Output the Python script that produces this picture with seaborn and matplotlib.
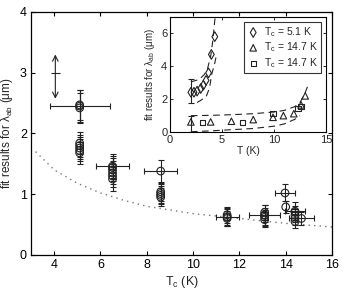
import numpy as np
import pandas as pd
import matplotlib
matplotlib.use("Agg")
import matplotlib.pyplot as plt
import seaborn as sns

sns.set_style("ticks")
plt.rcParams['font.family'] = ['Liberation Sans', 'DejaVu Sans']
plt.rcParams['mathtext.default'] = 'regular'
plt.rcParams['xtick.direction'] = 'in'
plt.rcParams['ytick.direction'] = 'in'

# ---------------- main panel data ----------------
# points with error bars (Tc, lambda, xerr, yerr)
main_tc   = [5.1, 6.52, 8.6, 11.47, 13.09, 13.97, 14.4, 14.68]
main_lam  = [2.45, 1.46, 1.38, 0.62, 0.65, 1.02, 0.72, 0.60]
main_xerr = [1.3, 0.73, 0.70, 0.50, 0.66, 0.42, 0.45, 0.55]
main_yerr = [0.27, 0.20, 0.18, 0.15, 0.17, 0.14, 0.15, 0.10]

# clustered repeated fits (only y error bars)
clus_tc   = [5.1, 5.1, 5.1, 5.1, 5.1, 5.1, 5.1,
             6.52, 6.52, 6.52, 6.52, 6.52,
             8.6, 8.6, 8.6, 8.6,
             11.47, 11.47, 11.47,
             13.09, 13.09, 13.09, 13.09,
             14.0,
             14.4, 14.4, 14.4, 14.4]
clus_lam  = [2.42, 2.47, 1.68, 1.72, 1.76, 1.80, 1.84,
             1.25, 1.30, 1.35, 1.40, 1.44,
             0.95, 0.98, 1.01, 1.04,
             0.60, 0.63, 0.66,
             0.58, 0.62, 0.66, 0.70,
             0.79,
             0.55, 0.60, 0.65, 0.70]
clus_yerr = [0.25, 0.25, 0.18, 0.18, 0.18, 0.18, 0.18,
             0.19, 0.19, 0.19, 0.19, 0.19,
             0.15, 0.15, 0.15, 0.15,
             0.13, 0.13, 0.13,
             0.12, 0.12, 0.12, 0.12,
             0.10,
             0.10, 0.10, 0.10, 0.10]

# dotted reference curve
dot_tc  = [3.2, 4, 5, 6, 7, 8, 9, 10, 11, 12, 13, 14, 15, 16]
dot_lam = [1.70, 1.40, 1.18, 1.02, 0.90, 0.80, 0.74, 0.68, 0.64, 0.60, 0.56, 0.52, 0.49, 0.46]

# double arrow marker (x, y_low, y_high, y_mid, half width)
arrow_x = 4.05
arrow_y = [2.57, 3.30]
arrow_mid = 3.0
arrow_halfw = 0.2

# ---------------- inset data ----------------
dia_T   = [2.0, 2.3, 2.6, 2.95, 3.2, 3.46, 3.7, 3.97, 4.3]
dia_lam = [2.42, 2.42, 2.49, 2.65, 2.85, 3.14, 3.6, 4.72, 5.8]
tri_T   = [2.0, 3.9, 5.9, 8.0, 9.9, 10.9, 11.9, 12.6, 13.0]
tri_lam = [0.62, 0.62, 0.66, 0.76, 0.90, 1.00, 1.12, 1.65, 2.20]
sq_T    = [3.1, 7.0, 9.9, 12.3, 12.6]
sq_lam  = [0.58, 0.56, 1.15, 1.42, 1.58]

bracket_T   = [2.0, 2.0]
bracket_mid = [2.49, 0.48]
bracket_err = [0.71, 0.48]

dia_up_T   = [2.0, 2.8, 3.3, 3.6, 3.9, 4.1, 4.3, 4.45]
dia_up_lam = [3.05, 3.2, 3.5, 3.85, 4.6, 5.5, 6.8, 7.3]
dia_lo_T   = [2.6, 3.0, 3.5, 3.8, 4.0, 4.3, 4.5]
dia_lo_lam = [1.8, 1.95, 2.2, 2.7, 3.5, 4.2, 4.8]
low_up_T   = [2, 4, 6, 8, 10, 11, 12, 12.5, 13, 13.3]
low_up_lam = [1.0, 1.02, 1.06, 1.12, 1.22, 1.32, 1.55, 1.8, 2.4, 2.9]
low_lo_T   = [2, 4, 6, 8, 10, 11, 12, 12.5]
low_lo_lam = [0.02, 0.08, 0.15, 0.22, 0.36, 0.5, 0.78, 1.0]

legend_labels = ["T$_c$ = 5.1 K", "T$_c$ = 14.7 K", "T$_c$ = 14.7 K"]

dark = "#222222"
fig = plt.figure(figsize=(3.45, 2.91), dpi=100)
ax = fig.add_axes([0.0899, 0.124, 0.8725, 0.835])

# dotted curve
sns.lineplot(x=dot_tc, y=dot_lam, ax=ax, color="#777777", linestyle=(0, (1, 3)),
             linewidth=1.0, sort=False, legend=False)

ax.errorbar(main_tc, main_lam, xerr=main_xerr, yerr=main_yerr, fmt='none',
            ecolor=dark, elinewidth=0.8, capsize=2, capthick=0.8)
ax.errorbar(clus_tc, clus_lam, yerr=clus_yerr, fmt='none',
            ecolor=dark, elinewidth=0.8, capsize=2, capthick=0.8)
sns.scatterplot(x=main_tc + clus_tc, y=main_lam + clus_lam, ax=ax, marker='o',
                s=30, facecolor='none', edgecolor=dark, linewidth=0.8, legend=False)

ax.annotate('', xy=(arrow_x, arrow_y[1]), xytext=(arrow_x, arrow_y[0]),
            arrowprops=dict(arrowstyle='<->', color=dark, lw=0.8,
                            shrinkA=0, shrinkB=0))
ax.errorbar([arrow_x], [arrow_mid], xerr=[arrow_halfw], fmt='none',
            ecolor=dark, elinewidth=0.8, capsize=0)

ax.set_xlim(3, 16)
ax.set_ylim(0, 4)
ax.set_xticks([4, 6, 8, 10, 12, 14, 16])
ax.set_yticks([0, 1, 2, 3, 4])
ax.tick_params(axis='both', labelsize=9, length=3, width=0.8, top=True, right=True,
               colors='black', pad=3)
ax.set_xlabel("T$_c$ (K)", fontsize=9, labelpad=2)
ax.set_ylabel("fit results for λ$_{ab}$ (μm)", fontsize=8.5)
ax.yaxis.set_label_coords(-0.052, 0.5)
for s in ax.spines.values():
    s.set_linewidth(0.9)
    s.set_color('black')

# ---------------- inset ----------------
axi = fig.add_axes([0.493, 0.546, 0.452, 0.396])
for xs, ys in [(dia_up_T, dia_up_lam), (dia_lo_T, dia_lo_lam),
               (low_up_T, low_up_lam), (low_lo_T, low_lo_lam)]:
    sns.lineplot(x=xs, y=ys, ax=axi, color=dark, linestyle=(0, (6, 4)),
                 linewidth=0.8, sort=False, legend=False)
axi.errorbar(bracket_T, bracket_mid, yerr=bracket_err, fmt='none',
             ecolor=dark, elinewidth=0.8, capsize=2.5, capthick=0.8)
sns.scatterplot(x=dia_T, y=dia_lam, ax=axi, marker='d', s=24, facecolor='none',
                edgecolor=dark, linewidth=0.8, label=legend_labels[0])
sns.scatterplot(x=tri_T, y=tri_lam, ax=axi, marker='^', s=22, facecolor='none',
                edgecolor=dark, linewidth=0.8, label=legend_labels[1])
sns.scatterplot(x=sq_T, y=sq_lam, ax=axi, marker='s', s=14, facecolor='none',
                edgecolor=dark, linewidth=0.8, label=legend_labels[2])

axi.set_xlim(0, 15)
axi.set_ylim(0, 7)
axi.set_xticks([0, 5, 10, 15])
axi.set_yticks([0, 2, 4, 6])
axi.tick_params(axis='both', labelsize=8, length=2.5, width=0.7, top=True, right=True,
                pad=2)
axi.set_xlabel("T (K)", fontsize=7.5, labelpad=1)
axi.set_ylabel("fit results for λ$_{ab}$ (μm)", fontsize=7, labelpad=3)
for s in axi.spines.values():
    s.set_linewidth(0.8)
    s.set_color('black')
leg = axi.legend(loc='upper right', fontsize=7.5, frameon=True, fancybox=False,
                 edgecolor='black', handletextpad=0.4, borderpad=0.3,
                 labelspacing=0.15, handlelength=1.2, borderaxespad=0.5)
leg.get_frame().set_linewidth(0.8)

fig.savefig("out.png", dpi=100)
